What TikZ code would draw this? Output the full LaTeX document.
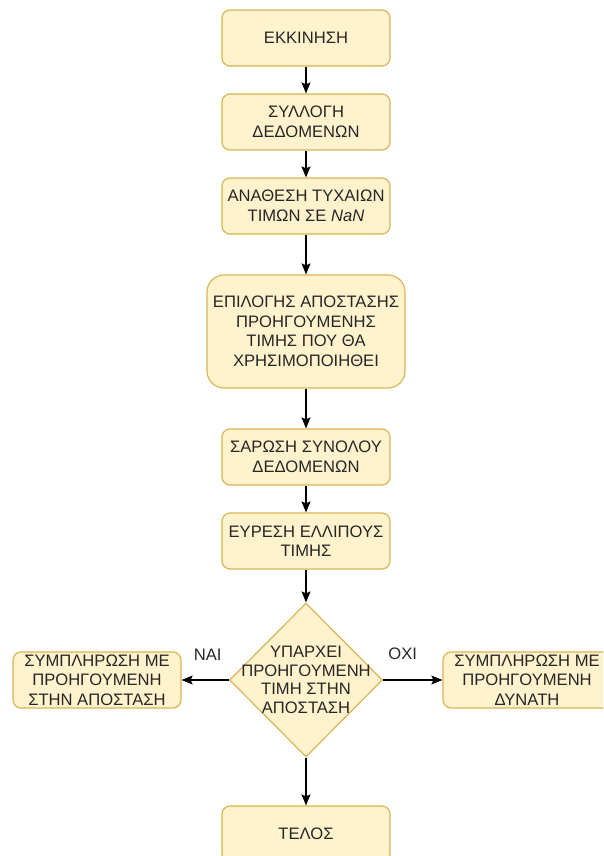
\documentclass[tikz,border=0pt]{standalone}
\usepackage{fontspec}
\setmainfont{Liberation Sans}
\usetikzlibrary{shapes.geometric,arrows.meta}
\definecolor{flowfill}{RGB}{255,242,204}
\definecolor{flowline}{RGB}{214,182,86}
\definecolor{flowtext}{RGB}{38,38,38}
\begin{document}
\begin{tikzpicture}[yscale=-1
,fstep/.style={draw=flowline,fill=flowfill,line width=1.2pt,rounded corners=8pt,minimum width=168pt,minimum height=56pt,inner sep=0pt,align=center,text=flowtext,font=\fontsize{16.6}{19.5}\selectfont}
,fbig/.style={fstep,rounded corners=17pt,minimum width=198pt,minimum height=113pt}
,fdec/.style={draw=flowline,fill=flowfill,line width=1.2pt,shape=diamond,minimum width=153pt,minimum height=154pt,inner sep=0pt}
,fdectext/.style={align=center,text=flowtext,font=\fontsize{16.6}{18.7}\selectfont}
,farrow/.style={draw=black,line width=1.2pt,-{Stealth[length=11pt,width=9pt,inset=2pt]}}
,flabel/.style={text=flowtext,font=\fontsize{16.6}{19.5}\selectfont}
]
\clip (0pt,0pt) rectangle (603pt,856pt);
\node[fstep] (start) at (306pt,38pt) {ΕΚΚΙΝΗΣΗ};
\node[fstep] (collect) at (306pt,122pt) {ΣΥΛΛΟΓΗ\\ΔΕΔΟΜΕΝΩΝ};
\node[fstep] (assign) at (306pt,206pt) {ΑΝΑΘΕΣΗ ΤΥΧΑΙΩΝ\\ΤΙΜΩΝ ΣΕ \textit{NaN}};
\node[fbig] (select) at (306pt,331.5pt) {ΕΠΙΛΟΓΗΣ ΑΠΟΣΤΑΣΗΣ\\ΠΡΟΗΓΟΥΜΕΝΗΣ\\ΤΙΜΗΣ ΠΟΥ ΘΑ\\ΧΡΗΣΙΜΟΠΟΙΗΘΕΙ};
\node[fstep] (scan) at (306pt,457pt) {ΣΑΡΩΣΗ ΣΥΝΟΛΟΥ\\ΔΕΔΟΜΕΝΩΝ};
\node[fstep] (find) at (306pt,541pt) {ΕΥΡΕΣΗ ΕΛΛΙΠΟΥΣ\\ΤΙΜΗΣ};
\node[fdec,label={[fdectext]center:{ΥΠΑΡΧΕΙ\\ΠΡΟΗΓΟΥΜΕΝΗ\\ΤΙΜΗ ΣΤΗΝ\\ΑΠΟΣΤΑΣΗ}}] (check) at (306pt,680pt) {};
\node[fstep] (fillprev) at (97pt,680pt) {ΣΥΜΠΛΗΡΩΣΗ ΜΕ\\ΠΡΟΗΓΟΥΜΕΝΗ\\ΣΤΗΝ ΑΠΟΣΤΑΣΗ};
\node[fstep] (fillnear) at (527pt,680pt) {ΣΥΜΠΛΗΡΩΣΗ ΜΕ\\ΠΡΟΗΓΟΥΜΕΝΗ\\ΔΥΝΑΤΗ};
\node[fstep] (stop) at (306pt,834pt) {ΤΕΛΟΣ};
\draw[farrow] (start) -- (collect);
\draw[farrow] (collect) -- (assign);
\draw[farrow] (assign) -- (select);
\draw[farrow] (select) -- (scan);
\draw[farrow] (scan) -- (find);
\draw[farrow] (find) -- (check);
\draw[farrow] (check) -- node[flabel,pos=0.45,above,yshift=16pt]{ΝΑΙ} (fillprev);
\draw[farrow] (check) -- node[flabel,pos=0.33,above,yshift=16pt]{ΟΧΙ} (fillnear);
\draw[farrow] (check) -- (stop);
\end{tikzpicture}
\end{document}
